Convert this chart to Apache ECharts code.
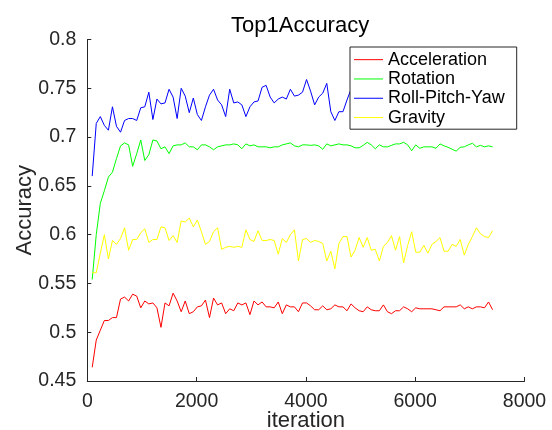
<!DOCTYPE html>
<html>
<head>
<meta charset="utf-8">
<script src="https://cdn.jsdelivr.net/npm/echarts@6/dist/echarts.min.js"></script>
<style>
html,body{margin:0;padding:0;background:#fff;}
#c{width:552px;height:430px;}
</style>
</head>
<body>
<div id="c"></div>
<script>
const iterations = [90,164,238,312,386,460,534,608,682,756,
830,904,978,1052,1126,1200,1274,1348,1422,1496,
1570,1644,1718,1792,1866,1940,2014,2088,2162,2236,
2310,2384,2458,2532,2606,2680,2754,2828,2902,2976,
3050,3124,3198,3272,3346,3420,3494,3568,3642,3716,
3790,3864,3938,4012,4086,4160,4234,4308,4382,4456,
4530,4604,4678,4752,4826,4900,4974,5048,5122,5196,
5270,5344,5418,5492,5566,5640,5714,5788,5862,5936,
6010,6084,6158,6232,6306,6380,6454,6528,6602,6676,
6750,6824,6898,6972,7046,7120,7194,7268,7342,7416];

const acceleration = [0.464,0.492,0.502,0.512,0.512,0.515,0.515,0.534,0.536,0.532,
0.539,0.537,0.525,0.532,0.529,0.530,0.525,0.505,0.530,0.527,
0.540,0.532,0.521,0.532,0.519,0.521,0.526,0.527,0.533,0.515,
0.535,0.528,0.530,0.519,0.524,0.522,0.530,0.528,0.530,0.518,
0.532,0.528,0.531,0.526,0.526,0.525,0.531,0.519,0.528,0.526,
0.526,0.521,0.530,0.530,0.527,0.523,0.523,0.527,0.523,0.524,
0.528,0.526,0.526,0.522,0.529,0.525,0.522,0.521,0.526,0.523,
0.522,0.522,0.528,0.521,0.519,0.522,0.522,0.526,0.524,0.521,
0.525,0.524,0.524,0.524,0.524,0.523,0.522,0.526,0.526,0.526,
0.526,0.528,0.524,0.526,0.524,0.526,0.526,0.525,0.531,0.523];

const rotation = [0.554,0.600,0.632,0.645,0.659,0.664,0.678,0.691,0.694,0.692,
0.670,0.683,0.697,0.676,0.682,0.697,0.696,0.688,0.690,0.683,
0.691,0.692,0.692,0.694,0.690,0.690,0.687,0.692,0.692,0.690,
0.687,0.690,0.691,0.692,0.692,0.693,0.692,0.688,0.693,0.691,
0.692,0.690,0.690,0.690,0.689,0.690,0.690,0.692,0.693,0.694,
0.691,0.690,0.692,0.692,0.6915,0.692,0.691,0.6875,0.693,0.691,
0.692,0.693,0.692,0.692,0.691,0.689,0.689,0.6915,0.6946,0.692,
0.688,0.692,0.690,0.690,0.6915,0.693,0.693,0.6946,0.692,0.686,
0.692,0.6885,0.690,0.690,0.690,0.6885,0.693,0.691,0.6895,0.6875,
0.6856,0.6895,0.690,0.692,0.6936,0.690,0.6915,0.690,0.691,0.690];

const rollPitchYaw = [0.660,0.714,0.721,0.712,0.707,0.731,0.711,0.705,0.717,0.719,
0.719,0.717,0.730,0.731,0.746,0.718,0.739,0.734,0.735,0.749,
0.741,0.719,0.750,0.742,0.725,0.740,0.723,0.717,0.731,0.743,
0.749,0.738,0.733,0.721,0.749,0.735,0.736,0.733,0.721,0.731,
0.736,0.737,0.751,0.753,0.741,0.735,0.739,0.741,0.739,0.749,
0.742,0.743,0.746,0.759,0.747,0.733,0.741,0.745,0.755,0.726,
0.717,0.726,0.726,0.738,0.749,0.757,0.752,0.760,0.748,0.755,
0.762,0.750,0.758,0.753,0.764,0.751,0.757,0.760,0.749,0.756,
0.762,0.754,0.758,0.750,0.761,0.755,0.759,0.752,0.763,0.756,
0.758,0.753,0.760,0.757,0.762,0.754,0.759,0.756,0.761,0.758];

const gravity = [0.561,0.561,0.581,0.600,0.575,0.594,0.590,0.596,0.607,0.584,
0.595,0.595,0.602,0.606,0.592,0.595,0.595,0.608,0.607,0.594,
0.599,0.592,0.614,0.613,0.617,0.608,0.615,0.603,0.590,0.593,
0.603,0.607,0.585,0.587,0.588,0.587,0.588,0.587,0.605,0.595,
0.593,0.604,0.594,0.594,0.595,0.594,0.580,0.596,0.592,0.600,
0.605,0.573,0.595,0.596,0.592,0.594,0.593,0.591,0.573,0.583,
0.565,0.591,0.598,0.598,0.577,0.584,0.597,0.587,0.597,0.584,
0.585,0.573,0.588,0.592,0.599,0.584,0.598,0.571,0.589,0.603,
0.582,0.582,0.589,0.581,0.590,0.593,0.597,0.583,0.583,0.590,
0.588,0.595,0.579,0.590,0.598,0.607,0.601,0.598,0.597,0.604];

const seriesNames = ['Acceleration','Rotation','Roll-Pitch-Yaw','Gravity'];
const seriesColors = ['#ff0000','#00ff00','#0000ff','#ffff00'];
const seriesValues = [acceleration, rotation, rollPitchYaw, gravity];
const xTicks = {min: 0, max: 8000, interval: 2000};
const yTicks = {min: 0.45, max: 0.8, interval: 0.05};

const FONT = 'Liberation Sans, Arial, Helvetica, sans-serif';
const AX = '#262626';

const chart = echarts.init(document.getElementById('c'), null, {renderer: 'canvas'});
chart.setOption({
  animation: false,
  backgroundColor: '#fff',
  textStyle: {fontFamily: FONT},
  title: {
    text: 'Top1Accuracy',
    left: 231, top: 15, padding: 0,
    textStyle: {fontFamily: FONT, fontSize: 22, fontWeight: 'normal', color: '#000'}
  },
  grid: {left: 87.3, right: 27.5, top: 39.5, bottom: 49, containLabel: false, outerBoundsMode: 'none'},
  legend: {
    orient: 'vertical',
    left: 350, top: 47,
    data: seriesNames,
    backgroundColor: '#fff',
    borderColor: AX, borderWidth: 1,
    padding: [3, 12, 2, 4],
    itemGap: 0,
    itemWidth: 29, itemHeight: 1,
    icon: 'rect',
    textStyle: {fontFamily: FONT, fontSize: 18, color: '#000', lineHeight: 19.3, padding: [0,0,0,0]},
    z: 10
  },
  xAxis: {
    type: 'value',
    min: xTicks.min, max: xTicks.max, interval: xTicks.interval,
    name: 'iteration', nameLocation: 'middle', nameGap: 29, nameMoveOverlap: false,
    nameTextStyle: {fontFamily: FONT, fontSize: 22, color: AX},
    axisLine: {show: true, onZero: false, lineStyle: {color: AX, width: 1}},
    axisTick: {show: true, inside: true, length: 4, lineStyle: {color: AX}},
    axisLabel: {fontFamily: FONT, fontSize: 19.5, color: AX, margin: 11, formatter: v => String(v)},
    splitLine: {show: false}
  },
  yAxis: {
    type: 'value',
    min: yTicks.min, max: yTicks.max, interval: yTicks.interval,
    name: 'Accuracy', nameLocation: 'middle', nameGap: 51, nameRotate: 90, nameMoveOverlap: false,
    nameTextStyle: {fontFamily: FONT, fontSize: 22, color: AX},
    axisLine: {show: true, onZero: false, lineStyle: {color: AX, width: 1}},
    axisTick: {show: true, inside: true, length: 4, lineStyle: {color: AX}},
    axisLabel: {fontFamily: FONT, fontSize: 19.5, color: AX, margin: 11},
    splitLine: {show: false}
  },
  series: seriesNames.map((name, k) => ({
    name: name,
    type: 'line',
    color: seriesColors[k],
    symbol: 'none',
    showSymbol: false,
    lineStyle: {width: 1, color: seriesColors[k]},
    data: iterations.map((x, i) => [x, seriesValues[k][i]]),
    z: 2
  }))
});
</script>
</body>
</html>
